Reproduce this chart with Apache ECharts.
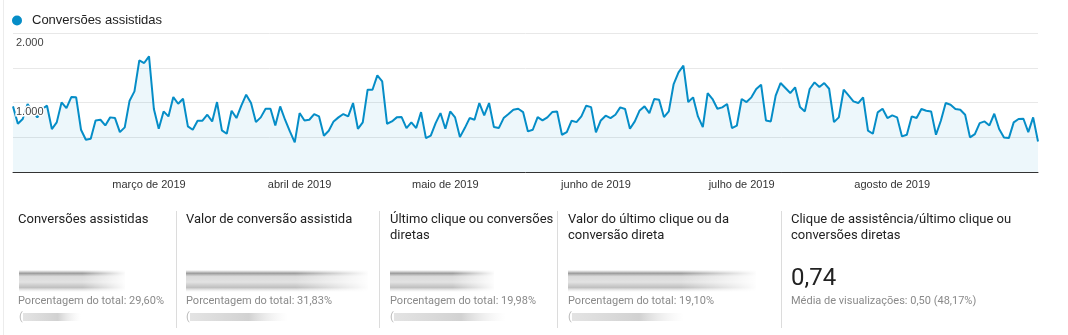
<!DOCTYPE html>
<html>
<head>
<meta charset="utf-8">
<script src="https://cdn.jsdelivr.net/npm/echarts@6/dist/echarts.min.js"></script>
<style>
  html, body { margin: 0; padding: 0; background: #fff; }
  #chart { width: 1068px; height: 335px; }
</style>
</head>
<body>
<div id="chart"></div>
<script>
// Daily assisted conversions, 1 Feb – 31 Aug 2019, one array per month
const fev = [944, 694, 762, 978, 872, 786, 906, 954, 618, 714, 1002, 920, 1078, 1074, 608, 464, 478, 742, 752, 670, 786, 776, 574, 642, 1026, 1160, 1606, 1568];
const mar = [1664, 906, 622, 872, 800, 1078, 982, 1054, 656, 608, 738, 738, 824, 728, 1006, 598, 550, 882, 776, 954, 1112, 992, 718, 786, 910, 910, 670, 944, 752, 584, 426];
const abr = [848, 742, 752, 834, 800, 522, 594, 728, 786, 834, 800, 992, 622, 714, 1184, 1184, 1390, 1304, 694, 728, 786, 790, 632, 714, 632, 862, 488, 522, 704, 848];
const mai = [622, 872, 786, 502, 632, 776, 752, 992, 814, 992, 646, 632, 776, 834, 896, 910, 862, 584, 608, 790, 742, 786, 862, 872, 536, 574, 738, 718, 800, 954, 934];
const jun = [570, 742, 810, 776, 824, 930, 906, 622, 728, 886, 944, 848, 1050, 1040, 790, 872, 1266, 1434, 1530, 1006, 1074, 800, 646, 1136, 1050, 910, 930, 978, 632, 666];
const jul = [1050, 1006, 1074, 1194, 1256, 742, 728, 1098, 1280, 1208, 1136, 1218, 934, 872, 1194, 1290, 1222, 1280, 1198, 718, 786, 1184, 1102, 1016, 992, 1074, 594, 550, 858, 910, 776];
const ago = [814, 786, 512, 536, 800, 776, 906, 882, 872, 536, 738, 992, 968, 906, 896, 824, 498, 546, 704, 728, 670, 838, 618, 498, 488, 714, 762, 766, 574, 786, 438];

const seriesName = 'Conversões assistidas';
// Month tick labels, keyed by the month number of the first day they mark
const monthTickLabels = {
  3: 'março de 2019', 4: 'abril de 2019', 5: 'maio de 2019',
  6: 'junho de 2019', 7: 'julho de 2019', 8: 'agosto de 2019'
};
const yTickLabels = { 1000: '1.000', 2000: '2.000' };

// Scorecards below the chart
const cardTitles = [
  'Conversões assistidas',
  'Valor de conversão assistida',
  'Último clique ou conversões\ndiretas',
  'Valor do último clique ou da\nconversão direta',
  'Clique de assistência/último clique ou\nconversões diretas'
];
const cardShares = [
  'Porcentagem do total: 29,60%',
  'Porcentagem do total: 31,83%',
  'Porcentagem do total: 19,98%',
  'Porcentagem do total: 19,10%',
  'Média de visualizações: 0,50 (48,17%)'
];
const ratioValue = '0,74';

const values = [].concat(fev, mar, abr, mai, jun, jul, ago);
const dates = values.map((_, i) => {
  const d = new Date(Date.UTC(2019, 1, 1 + i));
  return d.toISOString().slice(0, 10);
});

const cardX = [18, 186, 390, 568, 791];
const sepX = [176.5, 379.5, 557.5, 781.5];
// hidden figures are shown as smeared grey streaks
const smears = [
  { x: 19, w: 106, pw: 58 },
  { x: 186, w: 182, pw: 98 },
  { x: 390, w: 104, pw: 112 },
  { x: 568, w: 188, pw: 112 }
];

const graphics = [
  { type: 'line', shape: { x1: 3.5, y1: 0, x2: 3.5, y2: 335 }, style: { stroke: '#ececec', lineWidth: 1 } }
];
sepX.forEach(x => graphics.push({
  type: 'line', shape: { x1: x, y1: 211, x2: x, y2: 328 }, style: { stroke: '#dcdcdc', lineWidth: 1 }
}));
cardTitles.forEach((t, i) => graphics.push({
  type: 'text', x: cardX[i], y: 212,
  style: { text: t, fill: '#222', fontSize: 13, fontFamily: 'Roboto', lineHeight: 16, verticalAlign: 'top' }
}));
cardShares.forEach((t, i) => graphics.push({
  type: 'text', x: cardX[i], y: 301,
  style: { text: t, fill: '#8a8a8a', fontSize: 11, fontFamily: 'Roboto', verticalAlign: 'middle' }
}));
graphics.push({
  type: 'text', x: cardX[4], y: 279,
  style: { text: ratioValue, fill: '#222', fontSize: 24, fontFamily: 'Roboto', verticalAlign: 'middle' }
});
const vGrad = (stops) => ({ type: 'linear', x: 0, y: 0, x2: 0, y2: 1, colorStops: stops });
smears.forEach((s, i) => {
  graphics.push({
    type: 'rect', shape: { x: s.x, y: 270, width: s.w, height: 22 },
    style: { fill: vGrad([
      { offset: 0, color: 'rgba(140,140,140,0)' },
      { offset: 0.15, color: 'rgba(120,120,120,0.75)' },
      { offset: 0.3, color: 'rgba(190,190,190,0.55)' },
      { offset: 0.55, color: 'rgba(215,215,215,0.7)' },
      { offset: 0.8, color: 'rgba(150,150,150,0.6)' },
      { offset: 1, color: 'rgba(200,200,200,0)' }
    ]) }
  });
  graphics.push({
    type: 'rect', shape: { x: s.x + s.w * 0.6, y: 268, width: s.w * 0.4 + 2, height: 26 },
    style: { fill: { type: 'linear', x: 0, y: 0, x2: 1, y2: 0, colorStops: [
      { offset: 0, color: 'rgba(255,255,255,0)' }, { offset: 1, color: 'rgba(255,255,255,1)' }
    ] } }
  });
  graphics.push({
    type: 'text', x: s.x, y: 317,
    style: { text: '(', fill: '#bbb', fontSize: 11, fontFamily: 'Roboto', verticalAlign: 'middle' }
  });
  graphics.push({
    type: 'rect', shape: { x: s.x + 4, y: 313, width: s.pw, height: 8 },
    style: { fill: { type: 'linear', x: 0, y: 0, x2: 1, y2: 0, colorStops: [
      { offset: 0, color: 'rgba(200,200,200,0.5)' },
      { offset: 0.6, color: 'rgba(190,190,190,0.7)' },
      { offset: 1, color: 'rgba(230,230,230,0)' }
    ] } }
  });
});

const chart = echarts.init(document.getElementById('chart'), null, { renderer: 'canvas' });
chart.setOption({
  animation: false,
  backgroundColor: '#fff',
  legend: {
    data: [seriesName], icon: 'circle', left: 12, top: 14, padding: 0,
    itemWidth: 10, itemHeight: 10,
    textStyle: { color: '#222', fontSize: 13, fontFamily: 'Arial', padding: [0, 0, 0, 5] }
  },
  grid: { left: 13, right: 30, top: 33, bottom: 163, containLabel: false },
  xAxis: {
    type: 'category', data: dates, boundaryGap: false,
    axisLine: { lineStyle: { color: '#333', width: 1 } },
    axisTick: { show: false },
    splitLine: { show: false },
    axisLabel: {
      interval: (idx, val) => idx > 0 && val.slice(8) === '01',
      formatter: val => monthTickLabels[+val.slice(5, 7)] || '',
      color: '#333', fontSize: 11, fontFamily: 'Arial', margin: 7
    }
  },
  yAxis: [
    {
      type: 'value', min: 0, max: 2000, interval: 500,
      axisLine: { show: false }, axisTick: { show: false }, axisLabel: { show: false },
      splitLine: { lineStyle: { color: '#e8e8e8', width: 1 } }
    },
    {
      type: 'value', min: 0, max: 2000, interval: 500, position: 'left', z: 10,
      axisLine: { show: false }, axisTick: { show: false }, splitLine: { show: false },
      axisLabel: {
        inside: true, margin: 3, verticalAlign: 'top', padding: [4, 0, 0, 0],
        formatter: v => yTickLabels[v] || '',
        color: '#444', fontSize: 11, fontFamily: 'Arial',
        textBorderColor: '#fff', textBorderWidth: 3
      }
    }
  ],
  series: [{
    name: seriesName, type: 'line', data: values, yAxisIndex: 0,
    symbol: 'none', smooth: false,
    itemStyle: { color: '#058dc7' },
    lineStyle: { color: '#058dc7', width: 2 },
    areaStyle: { color: 'rgba(5,141,199,0.1)' }
  }],
  graphic: graphics
});
</script>
</body>
</html>
